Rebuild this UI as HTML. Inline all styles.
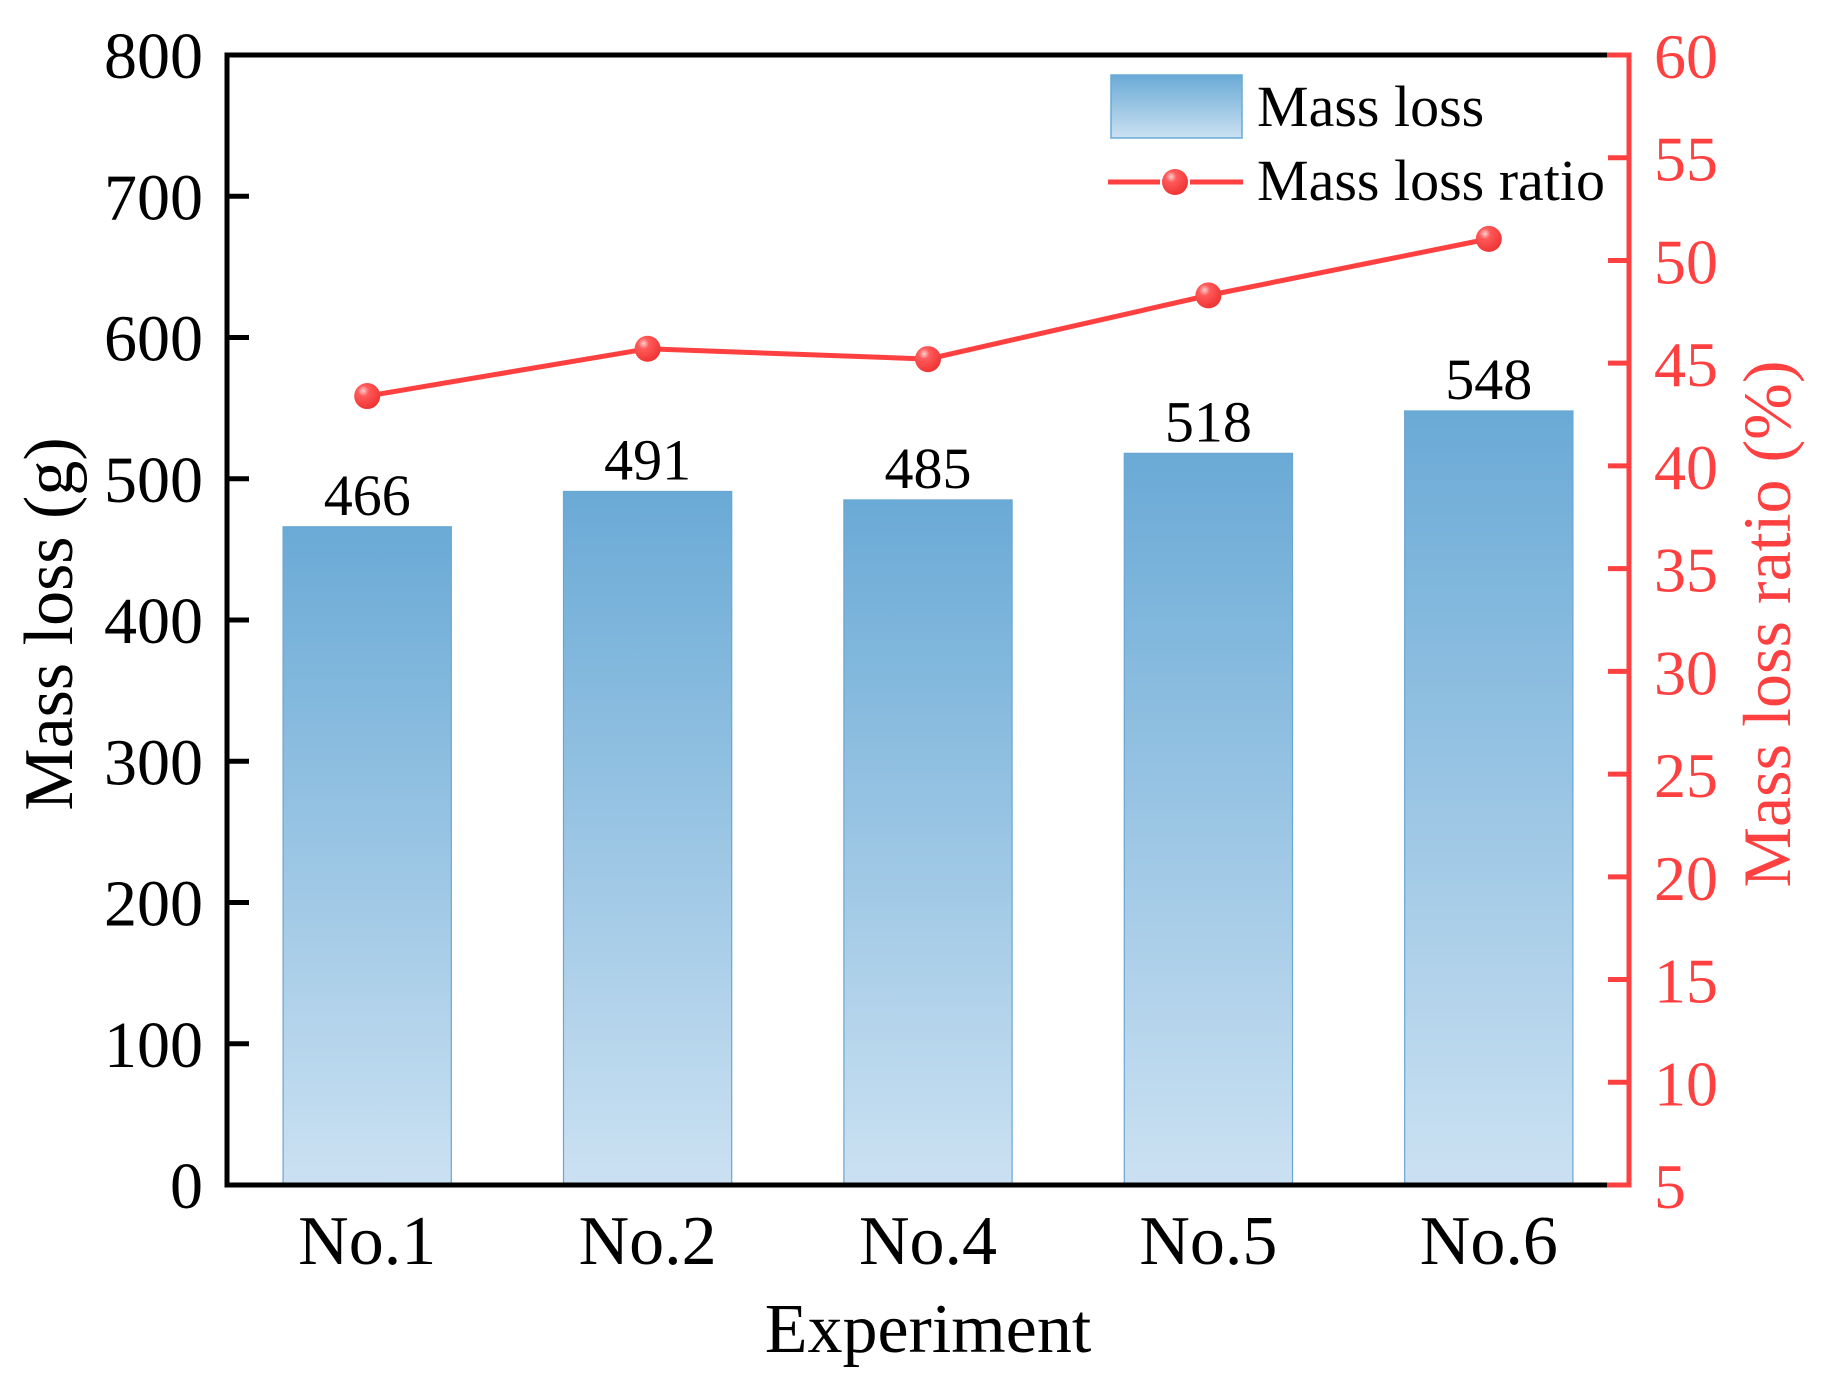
<!DOCTYPE html>
<html><head><meta charset="utf-8"><style>
html,body{margin:0;padding:0;background:#fff;}
svg{display:block;font-family:"Liberation Serif","Times New Roman",serif;}
</style></head><body>
<svg id="chart" width="1836" height="1388" viewBox="0 0 1836 1388" xmlns="http://www.w3.org/2000/svg">
<defs>
<linearGradient id="barGrad" x1="0" y1="0" x2="0" y2="1">
<stop offset="0" stop-color="#6aaad6"/><stop offset="1" stop-color="#cbe1f2"/>
</linearGradient>
<linearGradient id="legGrad" x1="0" y1="0" x2="0" y2="1">
<stop offset="0" stop-color="#6aaad6"/><stop offset="1" stop-color="#cbe1f2"/>
</linearGradient>
<radialGradient id="dotGrad" cx="0.35" cy="0.3" r="0.7">
<stop offset="0" stop-color="#ffd0d0"/><stop offset="0.3" stop-color="#ff5a5a"/><stop offset="1" stop-color="#f03535"/>
</radialGradient>
</defs>
<g id="bars"></g>
<g id="line"></g>
<g id="axes"></g>
<g id="legend">
<rect x="1111" y="75" width="131" height="63" fill="url(#legGrad)" stroke="#6aaad6" stroke-width="1.5"/>
<text x="1257" y="126" font-size="58" fill="#000">Mass loss</text>
<line x1="1108" y1="182" x2="1160" y2="182" stroke="#ff4040" stroke-width="5"/>
<line x1="1190" y1="182" x2="1243" y2="182" stroke="#ff4040" stroke-width="5"/>
<circle cx="1175" cy="182" r="13" fill="url(#dotGrad)"/>
<text x="1257" y="200" font-size="58" fill="#000">Mass loss ratio</text>
</g>
</svg>
<script>
const categories = ["No.1","No.2","No.4","No.5","No.6"];
const massLoss = [466,491,485,518,548];
const massLossRatio = [43.4,45.7,45.2,48.3,51.05];
const leftTicks = [0,100,200,300,400,500,600,700,800];
const rightTicks = [5,10,15,20,25,30,35,40,45,50,55,60];

const NS = "http://www.w3.org/2000/svg";
const L = 227, R = 1629, T = 55, B = 1185;
const yL = v => B - (v - 0) / 800 * (B - T);
const yR = v => B - (v - 5) / 55 * (B - T);
const band = (R - L) / categories.length;
const xC = i => L + band * (i + 0.5);
const barW = band * 0.6;

function mk(tag, attrs, parent, text) {
  const e = document.createElementNS(NS, tag);
  for (const k in attrs) e.setAttribute(k, attrs[k]);
  if (text !== undefined) e.textContent = text;
  parent.appendChild(e);
  return e;
}
const bars = document.getElementById('bars');
const line = document.getElementById('line');
const axes = document.getElementById('axes');

massLoss.forEach((v, i) => {
  const r = mk('rect', {x: xC(i) - barW / 2, y: yL(v), width: barW, height: B - yL(v), fill: 'url(#barGrad)', stroke: '#6aa6d2', 'stroke-width': 1.2}, bars);
  
  
  const t = mk('text', {x: xC(i), y: yL(v) - 12, 'font-size': 58, 'text-anchor': 'middle', fill: '#000'}, bars, String(v));
  
  
});

const pts = massLossRatio.map((v, i) => xC(i) + ',' + yR(v)).join(' ');
const pl = mk('polyline', {points: pts, fill: 'none', stroke: '#ff4040', 'stroke-width': 5}, line);


massLossRatio.forEach((v, i) => {
  const c = mk('circle', {cx: xC(i), cy: yR(v), r: 13, fill: 'url(#dotGrad)'}, line);
  
  
});

const fr = mk('path', {d: `M${R - 20},${T} L${L},${T} L${L},${B} L${R - 20},${B}`, fill: 'none', stroke: '#000', 'stroke-width': 5}, axes);


const ra = mk('path', {d: `M${R - 22},${T} L${R},${T} L${R},${B} L${R - 22},${B}`, fill: 'none', stroke: '#ff4040', 'stroke-width': 5}, axes);



leftTicks.forEach(v => {
  const y = yL(v);
  const tk = mk('line', {x1: L, y1: y, x2: L + 22, y2: y, stroke: '#000', 'stroke-width': 5}, axes);
  
  
  const t = mk('text', {x: 203, y: y + 23, 'font-size': 66, 'text-anchor': 'end', fill: '#000'}, axes, String(v));
  
  
});
rightTicks.forEach(v => {
  const y = yR(v);
  const tk = mk('line', {x1: R - 21, y1: y, x2: R, y2: y, stroke: '#ff4040', 'stroke-width': 5}, axes);
  
  
  const t = mk('text', {x: 1654, y: y + 23, 'font-size': 64, 'text-anchor': 'start', fill: '#ff4040'}, axes, String(v));
  
  
});
categories.forEach((c, i) => {
  const t = mk('text', {x: xC(i), y: 1264, 'font-size': 70, 'text-anchor': 'middle', fill: '#000'}, axes, c);
  
  
});
const xt = mk('text', {x: (L + R) / 2, y: 1352, 'font-size': 70, 'text-anchor': 'middle', fill: '#000'}, axes, 'Experiment');


const ylt = mk('text', {x: 0, y: 0, 'font-size': 70, 'text-anchor': 'middle', fill: '#000', transform: 'translate(72,624) rotate(-90)'}, axes, 'Mass loss (g)');


const yrt = mk('text', {x: 0, y: 0, 'font-size': 68, 'text-anchor': 'middle', fill: '#ff4040', transform: 'translate(1790,624) rotate(-90)'}, axes, 'Mass loss ratio (%)');


</script>
</body></html>
